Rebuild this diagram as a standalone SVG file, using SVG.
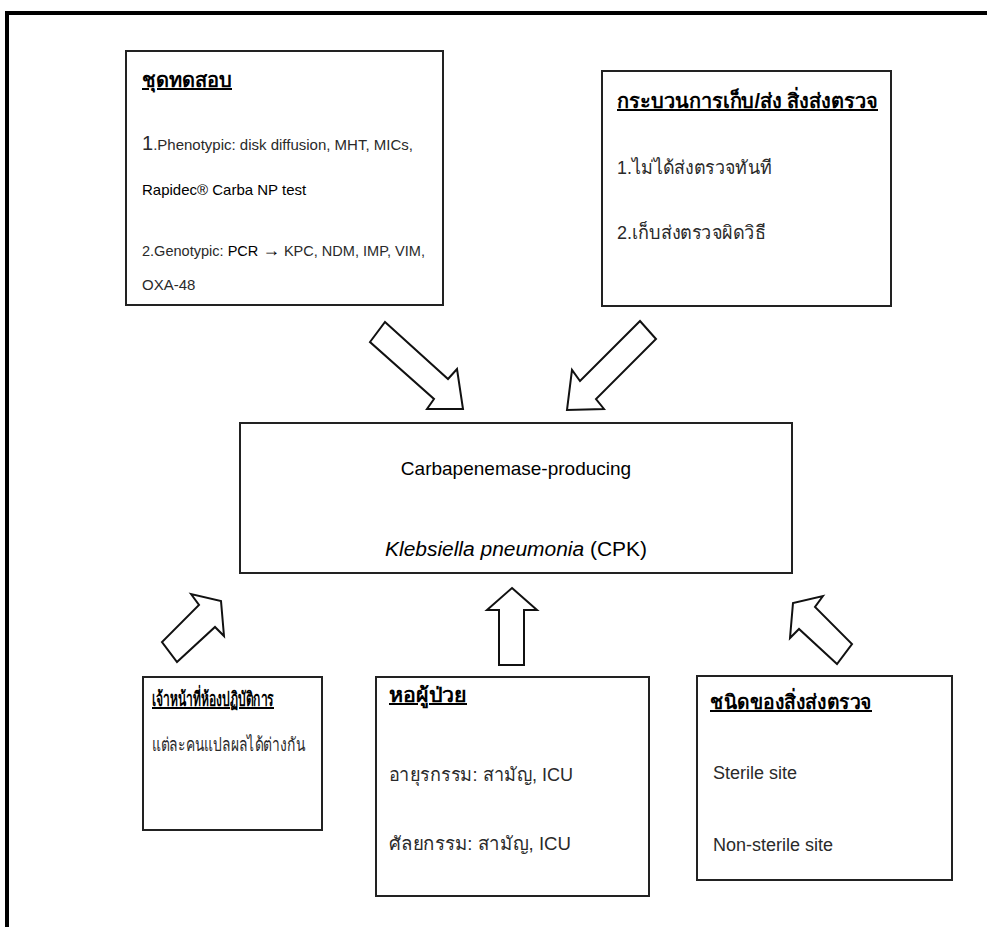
<svg xmlns="http://www.w3.org/2000/svg" width="987" height="927" viewBox="0 0 987 927">
<style>
.box{fill:#fff;stroke:#222;stroke-width:2}
.arr{fill:#fff;stroke:#111;stroke-width:2;stroke-linejoin:miter}
text{font-family:"Liberation Sans","Noto Sans",sans-serif;fill:#2a2a2a}
.t{font-weight:bold;font-size:20px;text-decoration:underline;fill:#000}
.b{font-size:19px}
.e{font-size:18px}
.s{font-size:15px}
.k{fill:#000}
</style>
<rect width="987" height="927" fill="#fff"/>
<path d="M7,927 V13 H987" fill="none" stroke="#000" stroke-width="4"/>
<g id="connectors">
<polygon class="arr" points="385,322 448,379 457,369 463,409 427,409 434,399 370,342"/>
<polygon class="arr" points="640,321 656,339 596,399 604,409 567,410 572,370 580,381"/>
<polygon class="arr" points="191,594 199,605 162,642 177,662 215,627 224,636 221,601"/>
<polygon class="arr" points="512,588 537,610 524,610 524,665 499,665 499,610 487,610"/>
<polygon class="arr" points="823,596 815,607 852,644 837,664 799,629 790,638 793,603"/>
</g>
<g id="test-kit">
<rect class="box" x="126" y="51" width="317" height="254"/>
<text class="t" x="142" y="87" textLength="90" lengthAdjust="spacingAndGlyphs">ชุดทดสอบ</text>
<text class="s" x="142" y="150"><tspan font-size="20">1</tspan>.Phenotypic: disk diffusion, MHT, MICs,</text>
<text class="s k" x="142" y="195">Rapidec® Carba NP test</text>
<text class="s" x="142" y="256" textLength="283" lengthAdjust="spacingAndGlyphs">2.Genotypic: <tspan class="k">PCR</tspan> <tspan class="k" font-weight="bold" font-size="18">→</tspan> KPC, NDM, IMP, VIM,</text>
<text class="s" x="142" y="290">OXA-48</text>
</g>
<g id="specimen-process">
<rect class="box" x="602" y="71" width="289" height="235"/>
<text class="t" x="617" y="108" textLength="261" lengthAdjust="spacingAndGlyphs">กระบวนการเก็บ/ส่ง สิ่งส่งตรวจ</text>
<text class="b" x="617" y="174" textLength="155" lengthAdjust="spacingAndGlyphs">1.ไม่ได้ส่งตรวจทันที</text>
<text class="b" x="617" y="239" textLength="149" lengthAdjust="spacingAndGlyphs">2.เก็บส่งตรวจผิดวิธี</text>
</g>
<g id="cpk">
<rect class="box" x="240" y="423" width="552" height="150"/>
<text x="516" y="475" font-size="19" text-anchor="middle" class="k">Carbapenemase-producing</text>
<text x="516" y="556" font-size="20" text-anchor="middle" class="k" textLength="262" lengthAdjust="spacingAndGlyphs"><tspan font-style="italic">Klebsiella pneumonia</tspan> (CPK)</text>
</g>
<g id="lab-staff">
<rect class="box" x="143" y="677" width="179" height="153"/>
<text class="t" x="152" y="706" textLength="122" lengthAdjust="spacingAndGlyphs">เจ้าหน้าที่ห้องปฏิบัติการ</text>
<text class="b" x="152" y="751" textLength="153" lengthAdjust="spacingAndGlyphs">แต่ละคนแปลผลได้ต่างกัน</text>
</g>
<g id="ward">
<rect class="box" x="376" y="677" width="273" height="219"/>
<text class="t" x="389" y="702" textLength="78" lengthAdjust="spacingAndGlyphs">หอผู้ป่วย</text>
<text class="b" x="389" y="781" textLength="184" lengthAdjust="spacingAndGlyphs">อายุรกรรม: สามัญ, ICU</text>
<text class="b" x="389" y="850" textLength="182" lengthAdjust="spacingAndGlyphs">ศัลยกรรม: สามัญ, ICU</text>
</g>
<g id="specimen-type">
<rect class="box" x="697" y="676" width="255" height="204"/>
<text class="t" x="710" y="709" textLength="162" lengthAdjust="spacingAndGlyphs">ชนิดของสิ่งส่งตรวจ</text>
<text class="e" x="713" y="779">Sterile site</text>
<text class="e" x="713" y="851">Non-sterile site</text>
</g>
</svg>
